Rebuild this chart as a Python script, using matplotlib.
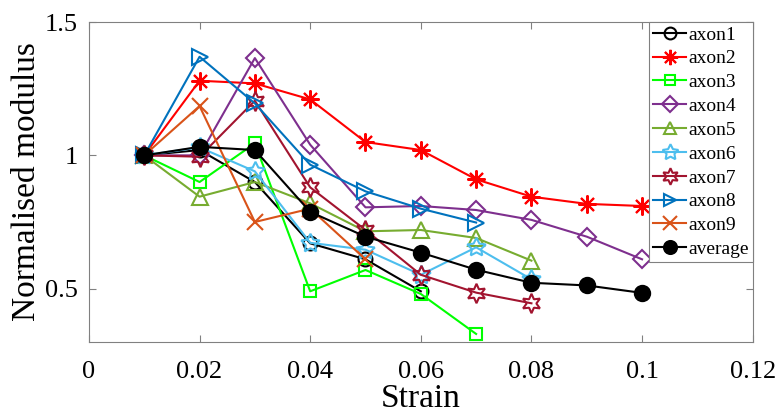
import numpy as np
import matplotlib
matplotlib.use("Agg")
import matplotlib.pyplot as plt

plt.rcParams['font.family'] = ['Liberation Serif', 'DejaVu Serif']
plt.rcParams['mathtext.fontset'] = 'stix'

strain = [0.01, 0.02, 0.03, 0.04, 0.05, 0.06, 0.07, 0.08, 0.09, 0.1]

axon1 = [1.0, 1.02, 0.90, 0.67, 0.61, 0.49]
axon2 = [1.0, 1.28, 1.27, 1.21, 1.05, 1.02, 0.91, 0.845, 0.818, 0.81]
axon3 = [1.0, 0.90, 1.045, 0.49, 0.57, 0.48, 0.33]
axon4 = [1.0, 1.0, 1.365, 1.04, 0.805, 0.81, 0.795, 0.758, 0.695, 0.61]
axon5 = [1.0, 0.845, 0.90, 0.82, 0.715, 0.72, 0.69, 0.605]
axon6 = [1.0, 1.03, 0.94, 0.672, 0.646, 0.552, 0.655, 0.535]
axon7 = [1.0, 0.995, 1.205, 0.88, 0.72, 0.552, 0.485, 0.445]
axon8 = [1.0, 1.37, 1.195, 0.965, 0.865, 0.80, 0.748]
axon9 = [1.0, 1.185, 0.75, 0.80, 0.61]
average = [1.0, 1.032, 1.02, 0.788, 0.695, 0.635, 0.571, 0.522, 0.512, 0.484]

names = ["axon1", "axon2", "axon3", "axon4", "axon5", "axon6", "axon7", "axon8", "axon9", "average"]
series = [axon1, axon2, axon3, axon4, axon5, axon6, axon7, axon8, axon9, average]
colors = ["k", (1, 0, 0), (0, 1, 0), (0.494, 0.184, 0.556), (0.466, 0.674, 0.188),
          (0.301, 0.745, 0.933), (0.635, 0.078, 0.184), (0, 0.447, 0.741),
          (0.85, 0.325, 0.098), "k"]
markers = ["o", (8, 2, 0), "s", "D", "^", (5, 1, 0), (6, 1, 0), ">", "x", "o"]
sizes = [10, 13, 9, 9, 11, 14, 14, 11, 12, 11]

fig = plt.figure(figsize=(7.8, 4.17), dpi=100)
ax = fig.add_axes([0.114, 0.18, 0.851, 0.767])

for y, name, c, m, ms in zip(series, names, colors, markers, sizes):
    fc = c if name == "average" else "none"
    ax.plot(strain[:len(y)], y, '-', color=c, marker=m, markersize=ms,
            markerfacecolor=fc, markeredgecolor=c, markeredgewidth=1.5,
            linewidth=1.5, label=name, zorder=3 if name == "average" else 2)

ax.set_xlim(0, 0.12)
ax.set_ylim(0.3, 1.5)
xt = [0, 0.02, 0.04, 0.06, 0.08, 0.1, 0.12]
ax.set_xticks(xt)
ax.set_xticklabels(["%g" % v for v in xt])
ax.set_yticks([0.5, 1, 1.5])
ax.set_yticklabels(["0.5", "1", "1.5"])
ax.tick_params(direction='in', top=True, right=True, labelsize=19, length=5,
               color='#808080')
ax.tick_params(axis='x', pad=14)
ax.tick_params(axis='y', pad=8)
for s in ax.spines.values():
    s.set_color('#808080')
    s.set_linewidth(0.8)

ax.set_xlabel("Strain", fontsize=24, labelpad=0)
ax.set_ylabel("Normalised modulus", fontsize=24, labelpad=2)

leg = ax.legend(loc='upper right', fontsize=14, borderaxespad=0, fancybox=False,
                framealpha=1, edgecolor='#808080', handlelength=1.7,
                handletextpad=0.1, labelspacing=0.32, borderpad=0.2, markerscale=0.85)
leg.get_frame().set_linewidth(0.8)

fig.savefig("out.png", dpi=100)
